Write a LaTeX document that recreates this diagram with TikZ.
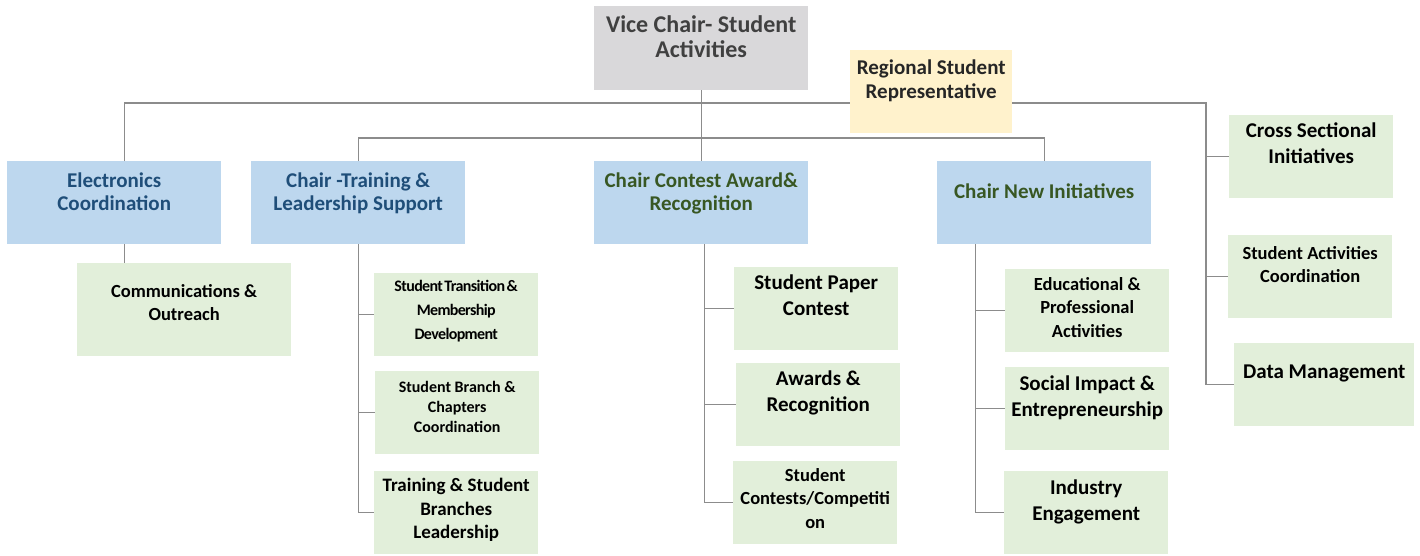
\documentclass[tikz,border=0pt]{standalone}
\usepackage{fontspec}
\setmainfont{Carlito}
\definecolor{vicegray}{HTML}{D9D8DA}
\definecolor{vicetext}{HTML}{404040}
\definecolor{repyellow}{HTML}{FFF2CC}
\definecolor{reptext}{HTML}{262626}
\definecolor{chairblue}{HTML}{BDD7EE}
\definecolor{bluetext}{HTML}{1F4E79}
\definecolor{greentext}{HTML}{385723}
\definecolor{subgreen}{HTML}{E2EFDA}
\definecolor{linegray}{HTML}{8C8C8C}
\newcommand\tightfont{\addfontfeature{LetterSpace=-4}\spaceskip=1.5pt\relax}
\tikzset{
  orgbox/.style n args={3}{inner sep=0pt,anchor=north west,
    execute at begin node={\begin{minipage}[t][#2][t]{#1}\centering\vspace*{#3}},
    execute at end node={\end{minipage}}},
  vicebox/.style={fill=vicegray,text=vicetext,font=\fontsize{24}{25}\selectfont\bfseries},
  repbox/.style={fill=repyellow,text=reptext,font=\fontsize{21}{24}\selectfont\bfseries},
  chairbox/.style={fill=chairblue,font=\fontsize{21}{23}\selectfont\bfseries},
  subbox/.style={fill=subgreen,text=black,font=\fontsize{21}{26}\selectfont\bfseries},
  smallsub/.style={subbox,font=\fontsize{18.5}{23.5}\selectfont\bfseries},
  conn/.style={draw=linegray,line width=1.2pt},
}

\begin{document}
\begin{tikzpicture}[x=1pt,y=-1pt]
    \useasboundingbox (0,0) rectangle (1420,555);
    % top
    \node[vicebox,orgbox={214pt}{84pt}{9pt}] (vice) at (594,6) {Vice Chair- Student\\Activities};
    % chairs
    \node[chairbox,text=bluetext,orgbox={214pt}{83pt}{12pt}] (elec) at (7,161) {Electronics\\Coordination};
    \node[chairbox,text=bluetext,orgbox={214pt}{83pt}{12pt}] (train) at (251,161) {Chair -Training \&\\Leadership Support};
    \node[chairbox,text=greentext,orgbox={214pt}{83pt}{12pt}] (contest) at (594,161) {Chair Contest Award\&\\Recognition};
    \node[chairbox,text=greentext,orgbox={214pt}{83pt}{23pt}] (newini) at (937,161) {Chair New Initiatives};
    % sub teams
    \node[smallsub,orgbox={214pt}{93pt}{21pt}] (comm) at (77,263) {Communications \&\\Outreach};
    \node[subbox,font=\fontsize{16}{24}\selectfont\bfseries\tightfont,orgbox={164pt}{83pt}{7pt}] (stmd) at (374,273) {Student Transition \&\\Membership\\Development};
    \node[subbox,font=\fontsize{16}{20}\selectfont\bfseries,orgbox={164pt}{83pt}{10pt}] (sbcc) at (375,371) {Student Branch \&\\Chapters\\Coordination};
    \node[subbox,font=\fontsize{19}{23.5}\selectfont\bfseries,orgbox={164pt}{83pt}{7pt}] (tsbl) at (374,471) {Training \& Student\\Branches\\Leadership};
    \node[subbox,orgbox={164pt}{83pt}{8pt}] (spc) at (734,267) {Student Paper\\Contest};
    \node[subbox,orgbox={164pt}{83pt}{8pt}] (awrec) at (736,363) {Awards \&\\Recognition};
    \node[smallsub,orgbox={164pt}{83pt}{7pt}] (scc) at (733,461) {Student\\Contests/Competiti\\on};
    \node[smallsub,orgbox={164pt}{83pt}{8pt}] (edpa) at (1005,269) {Educational \&\\Professional\\Activities};
    \node[subbox,orgbox={164pt}{83pt}{9pt}] (sie) at (1005,367) {Social Impact \&\\Entrepreneurship};
    \node[subbox,orgbox={164pt}{83pt}{9pt}] (inde) at (1004,471) {Industry\\Engagement};
    \node[subbox,orgbox={164pt}{83pt}{8pt}] (csi) at (1229,115) {Cross Sectional\\Initiatives};
    \node[smallsub,orgbox={164pt}{83pt}{11pt}] (sac) at (1228,235) {Student Activities\\Coordination};
    \node[subbox,orgbox={180pt}{83pt}{22pt}] (datam) at (1234,343) {Data Management};
    % connectors
    \coordinate (rightbus) at (1206,103);
    \coordinate (midbus) at (700,138);
    \coordinate (elecjoin) at ([xshift=10pt]elec.south);
    \coordinate (contestjoin) at ([xshift=3pt]contest.south);
    \coordinate (newjoin) at ([xshift=-69pt]newini.south);
    \draw[conn] (vice.south) -- (contest.north);
    \draw[conn] ([xshift=10pt]elec.north) |- (rightbus) |- (datam.west);
    \draw[conn] (rightbus |- csi.west) -- (csi.west);
    \draw[conn] (rightbus |- sac.west) -- (sac.west);
    \draw[conn] (train.north) |- (midbus) -| (newini.north);
    \draw[conn] (elecjoin) -- (elecjoin |- comm.north);
    \draw[conn] (train.south) |- (tsbl.west);
    \draw[conn] (train.south |- stmd.west) -- (stmd.west);
    \draw[conn] (train.south |- sbcc.west) -- (sbcc.west);
    \draw[conn] (contestjoin) |- (scc.west);
    \draw[conn] (contestjoin |- spc.west) -- (spc.west);
    \draw[conn] (contestjoin |- awrec.west) -- (awrec.west);
    \draw[conn] (newjoin) |- (inde.west);
    \draw[conn] (newjoin |- edpa.west) -- (edpa.west);
    \draw[conn] (newjoin |- sie.west) -- (sie.west);
    % representative sits over the bus line
    \node[repbox,orgbox={162pt}{83pt}{10pt}] (regrep) at (850,50) {Regional Student\\Representative};
\end{tikzpicture}
\end{document}
